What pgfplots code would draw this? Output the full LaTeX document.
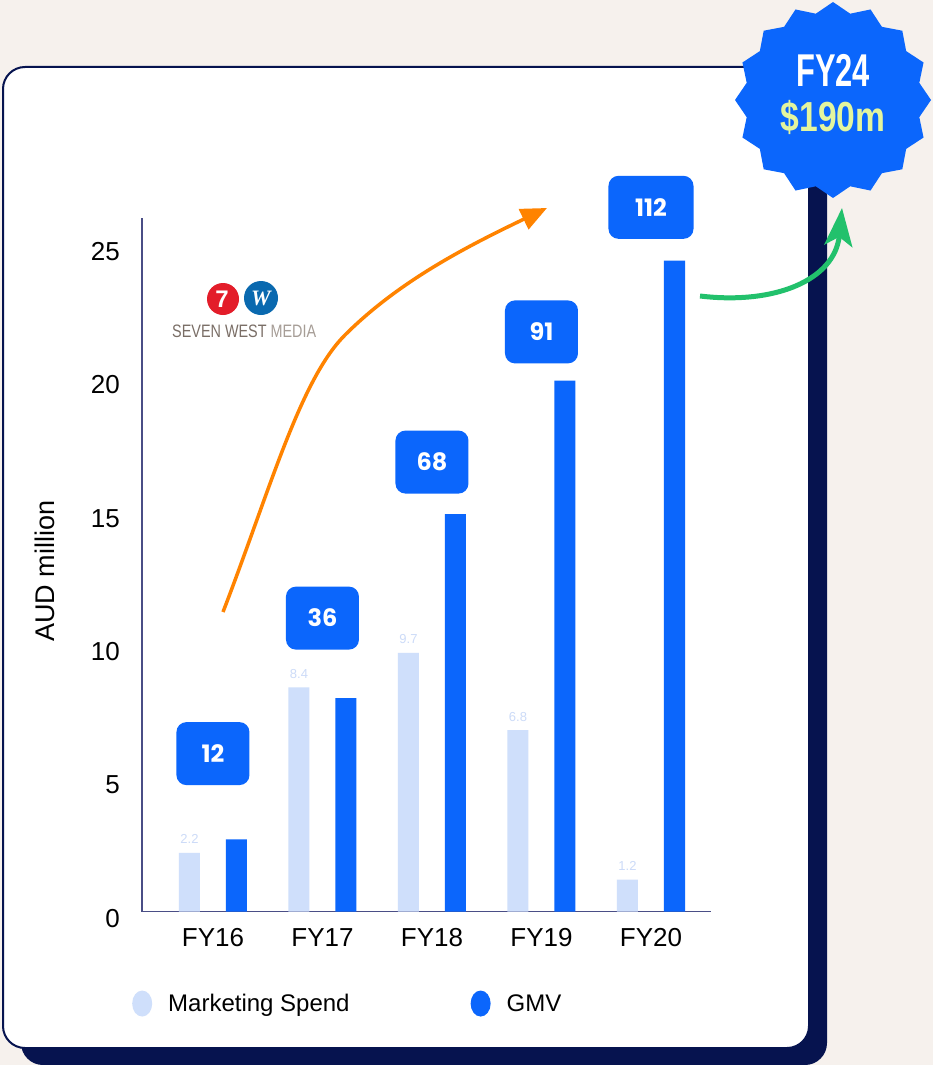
\documentclass[border=0pt]{standalone}
\usepackage{fontspec}
\setmainfont{Liberation Sans}
\newfontfamily\boxfont{Poppins}
\newfontfamily\serifit{Liberation Serif}
\usepackage{graphicx}
\usepackage{pgfplots}
\pgfplotsset{compat=1.18}
\usetikzlibrary{arrows.meta}
\definecolor{bg}{HTML}{F6F1ED}
\definecolor{navy}{HTML}{06134F}
\definecolor{gmv}{HTML}{0B66FC}
\definecolor{mkt}{HTML}{CFDFFB}
\definecolor{mktlab}{HTML}{CCDBF8}
\definecolor{axisc}{HTML}{4A4E86}
\definecolor{orangec}{HTML}{FF8300}
\definecolor{greenc}{HTML}{22C16C}
\definecolor{badgey}{HTML}{E3F59E}
\definecolor{swred}{HTML}{E31D2A}
\definecolor{swblue}{HTML}{0A69AF}
\definecolor{swtext}{HTML}{7A6E66}
\definecolor{swlight}{HTML}{A69D96}
\tikzset{valbox/.style={fill=gmv, rounded corners=10pt, minimum width=73pt, minimum height=63pt, text=white, inner sep=0pt, font=\boxfont\bfseries\fontsize{24}{30}\selectfont}}
\begin{document}
\begin{tikzpicture}
\useasboundingbox (0pt,0pt) rectangle (933pt,-1065pt);
\begin{scope}[x=1pt,y=-1pt]
\fill[bg] (0,0) rectangle (933,1065);
\fill[navy, rounded corners=22pt] (21,84) rectangle (827,1065);
\filldraw[fill=white, draw=navy, line width=2pt, rounded corners=22pt] (3,67) rectangle (809,1048);
% logo
\fill[swred] (223,299) circle (16);
\fill[swblue] (261,298) circle (17);
\node[text=white, font=\bfseries\fontsize{24}{24}\selectfont] at (222,299) {7};
\node[text=white, font=\serifit\itshape\bfseries\fontsize{22}{22}\selectfont] at (261,298) {W};
\node[anchor=base west, inner sep=0pt, font=\fontsize{18}{18}\selectfont] at (172,337) {\scalebox{0.8}[1]{\textcolor{swtext}{SEVEN WEST} \textcolor{swlight}{MEDIA}}};
\end{scope}

\begin{axis}[
  at={(142pt,-911.5pt)}, anchor=south west,
  scale only axis, width=569pt, height=693.5pt,
  xmin=-0.648, xmax=4.548, ymin=0, ymax=26,
  axis x line*=bottom, axis y line*=left,
  axis line style={draw=axisc, line width=1.6pt},
  major tick length=0pt,
  xtick={0,1,2,3,4}, xticklabels={FY16,FY17,FY18,FY19,FY20},
  ytick={0,5,10,15,20,25},
  /pgf/number format/assume math mode=true,
  tick label style={font=\fontsize{26}{30}\selectfont, text=black},
  xticklabel style={anchor=base, inner sep=0pt, yshift=-34.5pt},
  yticklabel style={anchor=east, inner sep=0pt, xshift=-22pt, yshift=-7pt},
  ylabel={AUD million},
  every axis y label/.style={at={(rel axis cs:-0.1705,0.491)}, rotate=90, anchor=center, font=\fontsize{27}{30}\selectfont},
  ybar=26pt, bar width=21pt,
  clip=false,
  legend style={at={(rel axis cs:-0.0176,-0.1327)}, anchor=west, draw=none, fill=none,
    font=\fontsize{24}{28}\selectfont, inner sep=0pt, nodes={inner sep=0pt},
    /tikz/every odd column/.append style={column sep=16pt},
    /tikz/every even column/.append style={column sep=121pt}},
  legend columns=2, legend cell align=left,
]
\addplot[fill=mkt, draw=none,
  nodes near coords={\pgfmathprintnumber[fixed,precision=1,fixed zerofill]{\pgfplotspointmeta}},
  nodes near coords style={font=\fontsize{13}{14}\selectfont, text=mktlab, anchor=base, inner sep=0pt, yshift=9pt},
  legend image code/.code={\fill[mkt] (10pt,0pt) ellipse [x radius=10pt, y radius=13pt];}]
  coordinates {(0,2.2) (1,8.4) (2,9.7) (3,6.8) (4,1.2)};
\addlegendentry{Marketing Spend}
\addplot[fill=gmv, draw=none,
  legend image code/.code={\fill[gmv] (10pt,0pt) ellipse [x radius=10pt, y radius=13pt];}]
  coordinates {(0,2.7) (1,8.0) (2,14.9) (3,19.9) (4,24.4)};
\addlegendentry{GMV}
\node[valbox] at (axis cs:0,5.92) {12};
\node[valbox] at (axis cs:1,11.0) {36};
\node[valbox] at (axis cs:2,16.85) {68};
\node[valbox] at (axis cs:3,21.73) {91};
\node[valbox, minimum width=85pt] at (axis cs:4,26.4) {112};
\end{axis}

\begin{scope}[x=1pt,y=-1pt]
\draw[orangec, line width=3.5pt, -{Triangle[length=26pt,width=22pt]}]
  (223,612) .. controls (270,490) and (300,380) .. (345,335) .. controls (400,280) and (470,245) .. (547,208);
\draw[greenc, line width=5pt, -{Stealth[length=38pt,width=28pt,inset=9pt]}]
  (700,296) .. controls (775,305) and (835,280) .. (842,208);
\begin{scope}[shift={(833,100)}]
\fill[gmv] (90:98) \foreach \i in {1,...,31} { -- ({90+\i*11.25}:{ifthenelse(isodd(\i),88,98)}) } -- cycle;
\end{scope}
\node[anchor=base, inner sep=0pt, text=white, font=\bfseries\fontsize{46}{46}\selectfont] at (833,86) {\scalebox{0.67}[1]{FY24}};
\node[anchor=base, inner sep=0pt, text=badgey, font=\bfseries\fontsize{42}{42}\selectfont] at (833,131) {\scalebox{0.8}[1]{\$190m}};
\end{scope}
\end{tikzpicture}
\end{document}
